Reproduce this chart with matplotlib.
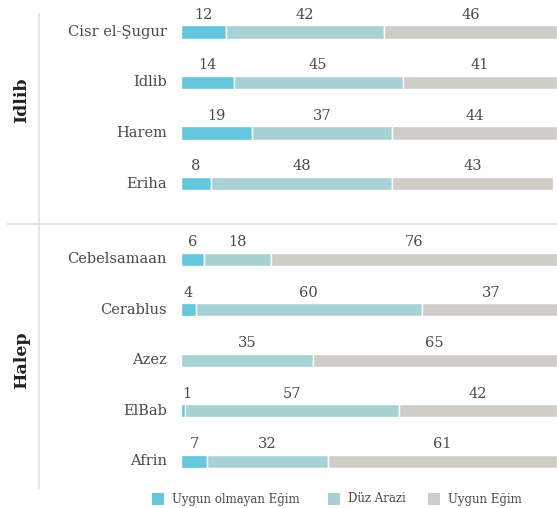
import numpy as np
import matplotlib.pyplot as plt
from matplotlib.lines import Line2D
from matplotlib.patches import Rectangle

# data
groups = ['Idlib', 'Halep']
districts = ['Cisr el-Şugur', 'Idlib', 'Harem', 'Eriha',
             'Cebelsamaan', 'Cerablus', 'Azez', 'ElBab', 'Afrin']
district_group = [0, 0, 0, 0, 1, 1, 1, 1, 1]
uygun_olmayan = [12, 14, 19, 8, 6, 4, 0, 1, 7]
duz_arazi = [42, 45, 37, 48, 18, 60, 35, 57, 32]
uygun_egim = [46, 41, 44, 43, 76, 37, 65, 42, 61]
series_names = ['Uygun olmayan Eğim', 'Düz Arazi', 'Uygun Eğim']
colors = ['#64c7db', '#a8d1d4', '#d0ccc7']

W, H = 557, 508
fig = plt.figure(figsize=(W / 100, H / 100), dpi=100)
plt.rcParams['font.family'] = ['DejaVu Serif']
txt_color = '#4a4a4a'

# row positions, extra half row between the two groups
ypos = np.arange(len(districts)) + 0.5 * np.array(district_group)

# axes: pixel 181..557 horizontally, rows 32px + 50.5px per step
top_px = 32 - 0.5 * 50.5
bot_px = 32 + 9.0 * 50.5
ax = fig.add_axes([181 / W, 1 - bot_px / H, 1 - 181 / W, (bot_px - top_px) / H])
ax.set_xlim(0, 100)
ax.set_ylim(9.0, -0.5)
ax.axis('off')

series = [uygun_olmayan, duz_arazi, uygun_egim]
left = np.zeros(len(districts))
bar_h = 0.265
for vals, col in zip(series, colors):
    vals = np.array(vals, dtype=float)
    ax.barh(ypos, vals, left=left, height=bar_h, color=col,
            edgecolor='white', linewidth=1.0)
    for y, l, v in zip(ypos, left, vals):
        if v <= 0:
            continue
        cx = max(l + v / 2, 1.6)
        ax.annotate('%d' % v, xy=(cx, y - bar_h / 2), xytext=(0, 2.5),
                    textcoords='offset points', ha='center', va='bottom',
                    fontsize=10.5, color=txt_color)
    left += vals

for y, name in zip(ypos, districts):
    ax.annotate(name, xy=(0, y), xytext=(-10, 0), textcoords='offset points',
                ha='right', va='center', fontsize=10.5, color=txt_color,
                annotation_clip=False)

# group labels and separator lines
group_px = [100, 360]
for g, ypx in zip(groups, group_px):
    fig.text(22 / W, 1 - ypx / H, g, rotation=90, ha='center', va='center',
             fontsize=12.5, fontweight='bold', color='#222222')

fig.add_artist(Line2D([39 / W, 39 / W], [1 - 14 / H, 1 - 489 / H],
                      color='#e5e5e5', linewidth=1.3))
fig.add_artist(Line2D([8 / W, 1], [1 - 224 / H, 1 - 224 / H],
                      color='#e0e0e0', linewidth=1.3))

# legend
leg_x = [152, 328, 428]
for x, name, col in zip(leg_x, series_names, colors):
    fig.add_artist(Rectangle((x / W, 1 - 505 / H), 12 / W, 12 / H,
                             facecolor=col, edgecolor='none'))
    fig.text((x + 20) / W, 1 - 499 / H, name, ha='left', va='center',
             fontsize=8.5, color=txt_color)

fig.savefig('out.png', dpi=100)
